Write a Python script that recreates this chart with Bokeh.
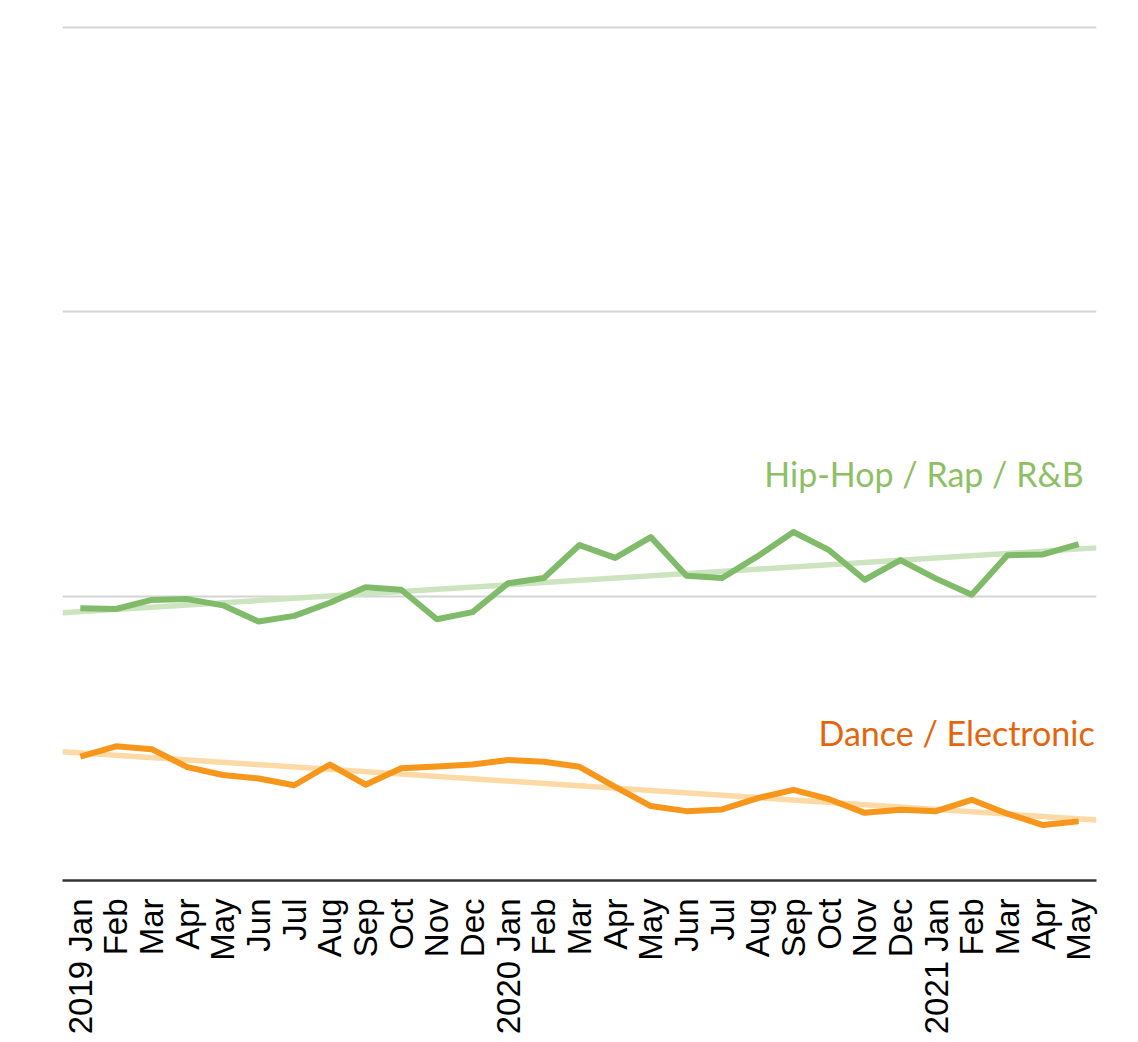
import numpy as np
from bokeh.plotting import figure
from bokeh.models import FixedTicker, Label
from bokeh.embed import file_html
from bokeh.resources import INLINE

months = ["2019 Jan", "Feb", "Mar", "Apr", "May", "Jun", "Jul", "Aug", "Sep", "Oct", "Nov", "Dec",
          "2020 Jan", "Feb", "Mar", "Apr", "May", "Jun", "Jul", "Aug", "Sep", "Oct", "Nov", "Dec",
          "2021 Jan", "Feb", "Mar", "Apr", "May"]

hiphop = [9.58, 9.55, 9.87, 9.90, 9.68, 9.11, 9.31, 9.77, 10.32, 10.23, 9.19, 9.44,
          10.46, 10.64, 11.80, 11.35, 12.08, 10.72, 10.64, 11.41, 12.26, 11.62, 10.58, 11.27,
          10.62, 10.05, 11.44, 11.47, 11.83]

dance = [4.36, 4.72, 4.62, 3.99, 3.71, 3.59, 3.35, 4.08, 3.37, 3.95, 4.01, 4.08,
         4.24, 4.18, 4.00, 3.29, 2.62, 2.44, 2.50, 2.90, 3.19, 2.86, 2.38, 2.49,
         2.44, 2.84, 2.35, 1.95, 2.08]

grid_values = [10, 20, 30]

x = np.arange(len(months))
x_lo, x_hi = -0.5, len(months) - 0.5

p = figure(width=1128, height=1040, x_range=(x_lo, x_hi), y_range=(0, 30.5),
           output_backend="svg", toolbar_location=None,
           min_border_left=62, min_border_right=32, min_border_top=13, min_border_bottom=160)
p.outline_line_color = None
p.background_fill_color = "white"
p.border_fill_color = "white"

# trend lines from linear fit
tx = np.array([x_lo, x_hi])
for series, col in ((hiphop, "#cde4c0"), (dance, "#fdd9a6")):
    k, b = np.polyfit(x, np.array(series), 1)
    p.line(tx, k * tx + b, line_color=col, line_width=5.5)

p.line(x, hiphop, line_color="#80bb6a", line_width=6, line_join="round")
p.line(x, dance, line_color="#f6971b", line_width=6, line_join="round")

p.add_layout(Label(x=x[-1], y=hiphop[-1], x_offset=5, y_offset=71, text="Hip-Hop / Rap / R&B",
                   text_align="right", text_baseline="alphabetic", text_color="#8fbf65",
                   text_font="Lato", text_font_size="34px"))
p.add_layout(Label(x=x[-1], y=dance[-1], x_offset=16, y_offset=89, text="Dance / Electronic",
                   text_align="right", text_baseline="alphabetic", text_color="#e4650c",
                   text_font="Lato", text_font_size="34px"))

p.yaxis.visible = False
p.ygrid.ticker = FixedTicker(ticks=grid_values)
p.ygrid.grid_line_color = "#d4d4d4"
p.ygrid.grid_line_width = 2
p.xgrid.visible = False

xa = p.xaxis[0]
xa.ticker = FixedTicker(ticks=list(x))
xa.major_label_overrides = {int(i): m for i, m in zip(x, months)}
xa.major_label_orientation = np.pi / 2
xa.major_label_text_font = "Liberation Sans"
xa.major_label_text_font_size = "33px"
xa.major_label_text_color = "black"
xa.major_label_standoff = 12
xa.major_tick_line_color = None
xa.minor_tick_line_color = None
xa.axis_line_color = "#333333"
xa.axis_line_width = 2.5

open("out.html", "w").write(file_html(p, INLINE))
